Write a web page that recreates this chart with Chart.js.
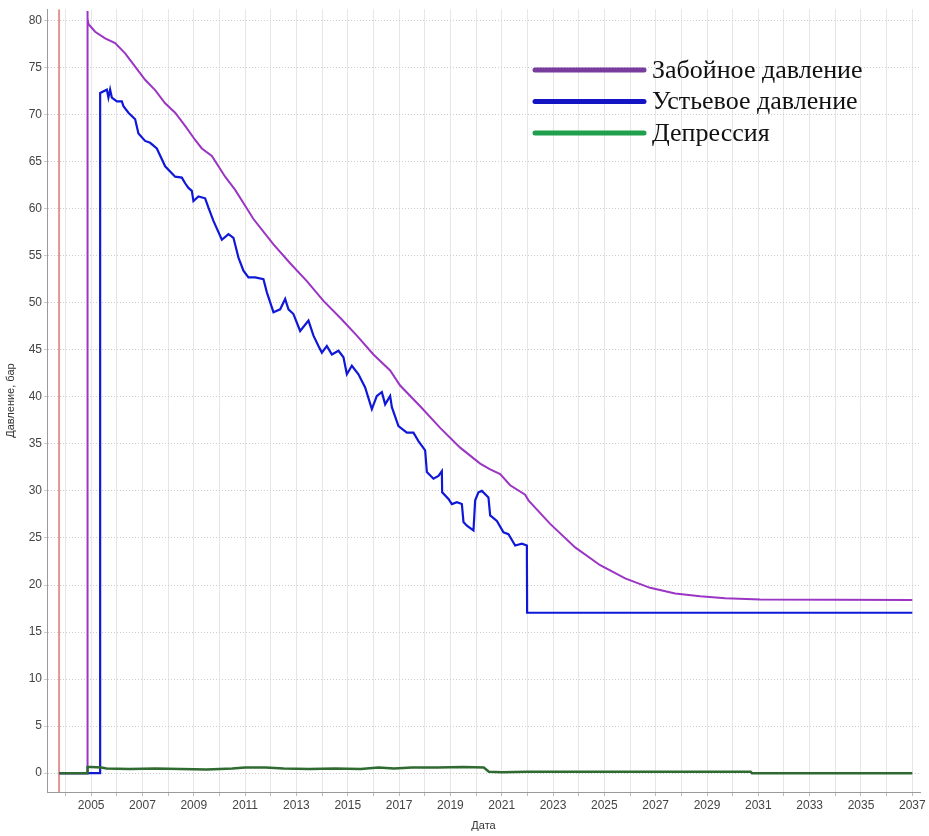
<!DOCTYPE html>
<html>
<head>
<meta charset="utf-8">
<script src="https://cdn.jsdelivr.net/npm/chart.js@4"></script>
<style>
  html, body { margin: 0; padding: 0; background: #fff; }
  #wrap { width: 929px; height: 836px; position: relative; }
</style>
</head>
<body>
<div id="wrap"><canvas id="chart"></canvas></div>
<script>
// ---- data (decimal years, bar) ----
const seriesNames = ["Забойное давление", "Устьевое давление", "Депрессия"];

const bhpYears = [2003.76, 2004.84, 2004.85, 2004.87, 2004.9, 2005.156, 2005.546, 2005.935, 2006.325, 2006.715,
  2007.104, 2007.494, 2007.884, 2008.274, 2008.663, 2009.053, 2009.314, 2009.704, 2010.222, 2010.612,
  2011.002, 2011.325, 2012.105, 2012.755, 2013.406, 2014.053, 2014.704, 2015.355, 2016.001, 2016.652,
  2017.042, 2017.822, 2018.601, 2019.381, 2020.16, 2020.55, 2020.939, 2021.329, 2021.914, 2022.042,
  2022.888, 2023.862, 2024.836, 2025.811, 2026.785, 2027.759, 2028.733, 2029.708, 2031.072, 2037.0];
const bhpValues = [0, 0, 81.0, 80.2, 79.6, 78.8, 78.1, 77.6, 76.5, 75.1,
  73.7, 72.6, 71.2, 70.2, 68.8, 67.3, 66.4, 65.6, 63.4, 62.0,
  60.3, 58.9, 56.2, 54.2, 52.3, 50.2, 48.4, 46.5, 44.5, 42.8,
  41.2, 39.0, 36.7, 34.6, 32.9, 32.3, 31.8, 30.6, 29.6, 29.0,
  26.5, 24.0, 22.1, 20.7, 19.7, 19.1, 18.8, 18.6, 18.45, 18.4];

const whpYears = [2003.76, 2005.35, 2005.351, 2005.612, 2005.674, 2005.74, 2005.807, 2006.002, 2006.196, 2006.259,
  2006.454, 2006.715, 2006.843, 2007.104, 2007.299, 2007.56, 2007.884, 2008.274, 2008.535, 2008.663,
  2008.792, 2008.924, 2008.987, 2009.182, 2009.443, 2009.571, 2009.766, 2010.094, 2010.351, 2010.546,
  2010.741, 2010.935, 2011.13, 2011.391, 2011.715, 2011.848, 2012.105, 2012.366, 2012.561, 2012.69,
  2012.884, 2013.145, 2013.469, 2013.664, 2013.858, 2013.991, 2014.186, 2014.38, 2014.638, 2014.833,
  2014.965, 2015.16, 2015.417, 2015.678, 2015.939, 2016.134, 2016.329, 2016.458, 2016.652, 2016.719,
  2016.976, 2017.303, 2017.56, 2017.755, 2018.016, 2018.083, 2018.34, 2018.535, 2018.667, 2018.679,
  2018.925, 2019.058, 2019.253, 2019.447, 2019.51, 2019.642, 2019.899, 2019.965, 2020.094, 2020.226,
  2020.483, 2020.55, 2020.811, 2021.068, 2021.263, 2021.524, 2021.785, 2021.98, 2021.99, 2037.0];
const whpValues = [0, 0, 72.3, 72.65, 71.8, 72.65, 71.8, 71.4, 71.4, 70.9,
  70.2, 69.5, 68.0, 67.2, 67.0, 66.4, 64.5, 63.4, 63.3, 62.7,
  62.2, 61.9, 60.8, 61.3, 61.1, 60.1, 58.7, 56.7, 57.3, 56.9,
  54.8, 53.4, 52.7, 52.7, 52.5, 51.1, 49.0, 49.3, 50.4, 49.3,
  48.8, 47.0, 48.1, 46.5, 45.4, 44.7, 45.4, 44.5, 44.9, 44.2,
  42.4, 43.3, 42.4, 41.0, 38.7, 40.1, 40.5, 39.2, 40.1, 38.9,
  36.9, 36.2, 36.2, 35.3, 34.3, 32.0, 31.3, 31.6, 32.1, 29.85,
  29.15, 28.6, 28.8, 28.6, 26.7, 26.3, 25.8, 29.0, 29.85, 30.0,
  29.3, 27.4, 26.8, 25.6, 25.4, 24.2, 24.4, 24.2, 17.05, 17.05];

const dpYears = [2003.76, 2004.85, 2004.86, 2005.0, 2005.4, 2005.6, 2006.5, 2007.5, 2008.5, 2009.5,
  2010.5, 2011.0, 2011.8, 2012.5, 2013.5, 2014.5, 2015.5, 2016.2, 2016.8, 2017.5,
  2018.5, 2019.5, 2020.3, 2020.5, 2021.0, 2022.0, 2025.0, 2028.0, 2030.7, 2030.75, 2037.0];
const dpValues = [0, 0, 0.65, 0.65, 0.6, 0.5, 0.45, 0.5, 0.45, 0.4,
  0.5, 0.6, 0.6, 0.5, 0.45, 0.5, 0.45, 0.6, 0.5, 0.6,
  0.6, 0.65, 0.6, 0.15, 0.1, 0.15, 0.15, 0.15, 0.15, 0.0, 0.0];

const markerYear = 2003.75;   // red vertical line
const xMin = 2003.28, xMax = 2037.3;
const yMin = -2, yMax = 81.2;
const xTickYears = [];
for (let y = 2004; y <= 2037; y++) xTickYears.push(y);
const yTickValues = [0, 5, 10, 15, 20, 25, 30, 35, 40, 45, 50, 55, 60, 65, 70, 75, 80];

// line colors: plot vs legend
const PLOT_COLORS = ["#9a35c4", "#1018d8", "#2f6a30"];
const LEGEND_COLORS = ["#773c9c", "#1414c4", "#20a04c"];

const pts = (xs, ys) => xs.map((x, i) => ({ x, y: ys[i] }));

// legend drawn inside the plot, top-right, serif like the original
const innerLegend = {
  id: "innerLegend",
  afterDraw(chart) {
    const ctx = chart.ctx;
    ctx.save();
    ctx.font = '26px "Liberation Serif", "Times New Roman", serif';
    ctx.textBaseline = "middle";
    ctx.lineCap = "round";
    seriesNames.forEach((name, i) => {
      const y = 70 + i * 31.5;
      ctx.strokeStyle = LEGEND_COLORS[i];
      ctx.lineWidth = 5;
      ctx.beginPath();
      ctx.moveTo(535, y);
      ctx.lineTo(644, y);
      ctx.stroke();
      ctx.fillStyle = "#111";
      ctx.fillText(name, 652, y + 1);
    });
    ctx.restore();
  },
};

new Chart(document.getElementById("chart"), {
  type: "line",
  data: {
    datasets: [
      { label: seriesNames[2], data: pts(dpYears, dpValues), borderColor: PLOT_COLORS[2], borderWidth: 2.5, order: 0 },
      { label: seriesNames[1], data: pts(whpYears, whpValues), borderColor: PLOT_COLORS[1], borderWidth: 2.2, order: 1 },
      { label: seriesNames[0], data: pts(bhpYears, bhpValues), borderColor: PLOT_COLORS[0], borderWidth: 2, order: 2 },
      { label: "marker", data: [{ x: markerYear, y: yMin }, { x: markerYear, y: yMax }], borderColor: "#e39595", borderWidth: 2, order: 3 },
    ],
  },
  options: {
    responsive: true,
    maintainAspectRatio: false,
    animation: false,
    elements: { point: { radius: 0 }, line: { tension: 0 } },
    layout: { padding: { top: 8, right: 9, left: 0, bottom: 0 } },
    plugins: { legend: { display: false }, tooltip: { enabled: false } },
    scales: {
      x: {
        type: "linear",
        min: xMin,
        max: xMax,
        afterBuildTicks: (axis) => { axis.ticks = xTickYears.map((v) => ({ value: v })); },
        afterFit: (scale) => { scale.height = 44; },
        grid: { color: "#e6e6e6", tickLength: 4, tickColor: "#bbb" },
        border: { color: "#9a9a9a" },
        ticks: {
          autoSkip: false,
          maxRotation: 0,
          padding: 2,
          color: "#444",
          font: { family: '"Liberation Sans", Arial, sans-serif', size: 12 },
          callback: (v) => (v % 2 === 1 ? String(v) : ""),
        },
        title: {
          display: true,
          text: "Дата",
          color: "#333",
          font: { family: '"Liberation Sans", Arial, sans-serif', size: 11 },
          padding: { top: 4, bottom: 3 },
        },
      },
      y: {
        type: "linear",
        min: yMin,
        max: yMax,
        afterBuildTicks: (axis) => { axis.ticks = yTickValues.map((v) => ({ value: v })); },
        afterFit: (scale) => { scale.width = 47; },
        grid: { color: "#cccccc", tickLength: 3, tickColor: "#ccc" },
        border: { color: "#9a9a9a", dash: [1, 2] },
        ticks: {
          padding: 2,
          color: "#444",
          font: { family: '"Liberation Sans", Arial, sans-serif', size: 12 },
        },
        title: {
          display: true,
          text: "Давление, бар",
          color: "#333",
          font: { family: '"Liberation Sans", Arial, sans-serif', size: 11 },
          padding: { top: 4, bottom: 0 },
        },
      },
    },
  },
  plugins: [innerLegend],
});
</script>
</body>
</html>
